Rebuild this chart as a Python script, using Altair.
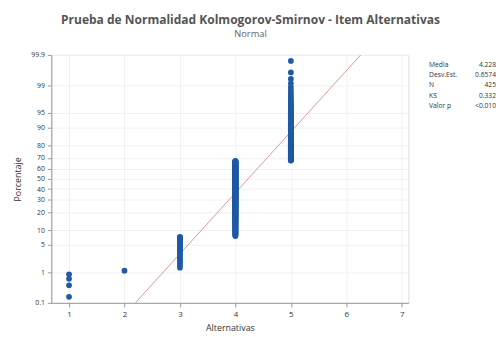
import altair as alt
import pandas as pd
from statistics import NormalDist

# --- data ---
alternativas = [1, 2, 3, 4, 5]
frecuencias = [4, 1, 27, 255, 138]          # N = 425
media = 4.228
desv_est = 0.6574
y_ticks_pct = [0.1, 1, 5, 10, 20, 30, 40, 50, 60, 70, 80, 90, 95, 99, 99.9]
x_ticks = [1, 2, 3, 4, 5, 6, 7]
stat_labels = ["Media", "Desv.Est.", "N", "KS", "Valor p"]
stat_values = ["4.228", "0.6574", "425", "0.332", "<0.010"]

obs = []
for v, f in zip(alternativas, frecuencias):
    obs += [v] * f
df_obs = pd.DataFrame({"valor": obs})

nd = NormalDist()
y_tick_z = [nd.inv_cdf(p / 100) for p in y_ticks_pct]
zmin, zmax = nd.inv_cdf(0.001) - 1e-6, nd.inv_cdf(0.999) + 1e-6
xdom = [0.68, 7.12]

df_line = pd.DataFrame({"valor": xdom})
df_stats = pd.DataFrame({"lab": stat_labels, "val": stat_values, "i": list(range(len(stat_labels)))})

W, H = 363, 252
FONT = "Open Sans"

xscale = alt.Scale(domain=xdom, nice=False, zero=False)
yscale = alt.Scale(domain=[zmin, zmax], nice=False, zero=False)

xaxis = alt.Axis(values=x_ticks, tickCount=20, format="d", title="Alternativas", grid=True,
                 gridColor="#f0f0f0",
                 labelFontSize=8, titleFontSize=9, labelColor="#333", titleColor="#333",
                 titleFontWeight="normal", labelFlush=False, labelOverlap=False,
                 domainColor="#999", tickColor="#999", tickSize=4, labelPadding=4, titlePadding=5,
                 labelFont=FONT, titleFont=FONT)
yaxis = alt.Axis(values=y_tick_z, tickCount=40, title="Porcentaje", grid=True, gridColor="#f0f0f0",
                 labelExpr="format(cumulativeNormal(datum.value)*100, '.1~f')",
                 labelFontSize=7, titleFontSize=9, labelColor="#333", titleColor="#333",
                 titleFontWeight="normal", labelFlush=False, labelOverlap=False,
                 domainColor="#999", tickColor="#999", tickSize=4, labelPadding=3, titlePadding=8,
                 labelFont=FONT, titleFont=FONT)

points = alt.Chart(df_obs).transform_window(
    rank="row_number()", sort=[alt.SortField("valor")]
).transform_joinaggregate(
    N="count()"
).transform_calculate(
    z="quantileNormal((datum.rank - 0.3) / (datum.N + 0.4))"
).mark_circle(size=34, color="#1e5aa5", opacity=1).encode(
    x=alt.X("valor:Q", scale=xscale, axis=xaxis),
    y=alt.Y("z:Q", scale=yscale, axis=yaxis),
)

line = alt.Chart(df_line).transform_calculate(
    z=f"(datum.valor - {media}) / {desv_est}"
).mark_line(color="#d89a9a", strokeWidth=1, clip=True).encode(
    x=alt.X("valor:Q", scale=xscale),
    y=alt.Y("z:Q", scale=yscale),
)

stats_lab = alt.Chart(df_stats).transform_calculate(
    py="10 + datum.i * 10.5"
).mark_text(align="left", baseline="middle", fontSize=6.8, color="#333", font=FONT).encode(
    x=alt.value(W + 21), y=alt.Y("py:Q", scale=None), text="lab:N"
)
stats_val = alt.Chart(df_stats).transform_calculate(
    py="10 + datum.i * 10.5"
).mark_text(align="right", baseline="middle", fontSize=6.8, color="#333", font=FONT).encode(
    x=alt.value(W + 89), y=alt.Y("py:Q", scale=None), text="val:N"
)

chart = alt.layer(line, points, stats_lab, stats_val).properties(
    width=W, height=H,
    title=alt.TitleParams(
        "Prueba de Normalidad Kolmogorov-Smirnov - Item Alternativas",
        subtitle="Normal", anchor="middle", dx=21, fontSize=12.2, fontWeight="bold",
        color="#555", subtitleFontSize=9.5, subtitleColor="#666", font=FONT, subtitleFont=FONT,
        offset=13, subtitlePadding=3,
    ),
    autosize=alt.AutoSizeParams(type="none"),
    padding={"left": 44, "top": 45, "right": 89, "bottom": 30},
).configure_view(stroke="#aaa", strokeWidth=1).configure(background="white")

chart.save("out.html", embed_options={"renderer": "svg", "actions": False})
